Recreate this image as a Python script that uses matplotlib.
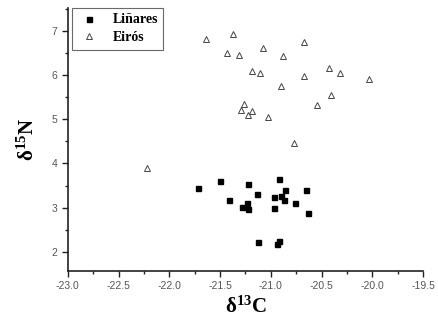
import matplotlib
matplotlib.use("Agg")
import matplotlib.pyplot as plt
from matplotlib.ticker import MultipleLocator

plt.rcParams['mathtext.fontset'] = 'custom'
plt.rcParams['mathtext.bf'] = 'Liberation Serif:bold'
plt.rcParams['mathtext.rm'] = 'Liberation Serif'
plt.rcParams['mathtext.it'] = 'Liberation Serif:italic'

linares_c = [-21.72, -21.50, -21.23, -20.92, -21.14, -20.86, -20.65, -21.41, -20.97, -20.90,
             -20.87, -20.76, -21.24, -21.28, -21.23, -20.97, -20.63, -21.13, -20.92, -20.94]
linares_n = [3.44, 3.60, 3.54, 3.66, 3.30, 3.40, 3.40, 3.17, 3.24, 3.26,
             3.18, 3.11, 3.10, 3.02, 2.98, 2.99, 2.88, 2.22, 2.24, 2.18]

eiros_c = [-21.64, -21.37, -20.67, -21.08, -21.43, -21.31, -20.88, -20.43, -21.19, -21.11,
           -20.67, -20.32, -20.03, -20.90, -20.41, -20.55, -21.26, -21.29, -21.19, -21.23,
           -21.03, -20.77, -22.22]
eiros_n = [6.81, 6.94, 6.74, 6.62, 6.51, 6.45, 6.43, 6.16, 6.09, 6.04,
           5.99, 6.05, 5.90, 5.75, 5.55, 5.32, 5.34, 5.21, 5.18, 5.10,
           5.06, 4.47, 3.90]

labels = ["Liñares", "Eirós"]
xticks = [-23.0, -22.5, -22.0, -21.5, -21.0, -20.5, -20.0, -19.5]
yticks = [2, 3, 4, 5, 6, 7]

fig = plt.figure(figsize=(4.38, 3.28), dpi=100)
ax = fig.add_axes([0.155, 0.174, 0.811, 0.802])

ax.plot(linares_c, linares_n, ls='none', marker='s', ms=3.6, mfc='black', mec='black', label=labels[0])
ax.plot(eiros_c, eiros_n, ls='none', marker='^', ms=4.4, mfc='white', mec='#444444', mew=0.7, label=labels[1])

ax.set_xlim(-23.0, -19.5)
ax.set_ylim(1.57, 7.52)
ax.xaxis.set_minor_locator(MultipleLocator(0.25))
ax.yaxis.set_minor_locator(MultipleLocator(0.5))
ax.set_xticks(xticks)
ax.set_xticklabels(["%.1f" % v for v in xticks])
ax.set_yticks(yticks)

for s in ['top', 'right']:
    ax.spines[s].set_visible(False)
for s in ['left', 'bottom']:
    ax.spines[s].set_linewidth(1.2)
    ax.spines[s].set_color('#222222')

ax.tick_params(which='major', direction='out', length=4, width=1, color='#222222',
               labelsize=7.5, labelcolor='#555555')
ax.tick_params(which='minor', direction='out', length=2.5, width=1, color='#222222')
for lab in ax.get_xticklabels() + ax.get_yticklabels():
    lab.set_fontfamily('Liberation Sans')

ax.set_xlabel(r"$\mathbf{\delta^{13}C}$", fontsize=15, labelpad=3)
ax.set_ylabel(r"$\mathbf{\delta^{15}N}$", fontsize=15, labelpad=10)

leg = ax.legend(loc='upper left', bbox_to_anchor=(0.012, 1.0), frameon=True, fancybox=False,
                prop={'family': 'Liberation Serif', 'weight': 'bold', 'size': 10},
                borderpad=0.4, handletextpad=0.9, handlelength=1.6, labelspacing=0.35,
                borderaxespad=0.0)
leg.get_frame().set_edgecolor('#444444')
leg.get_frame().set_linewidth(0.8)

fig.savefig("out.png", dpi=100)
